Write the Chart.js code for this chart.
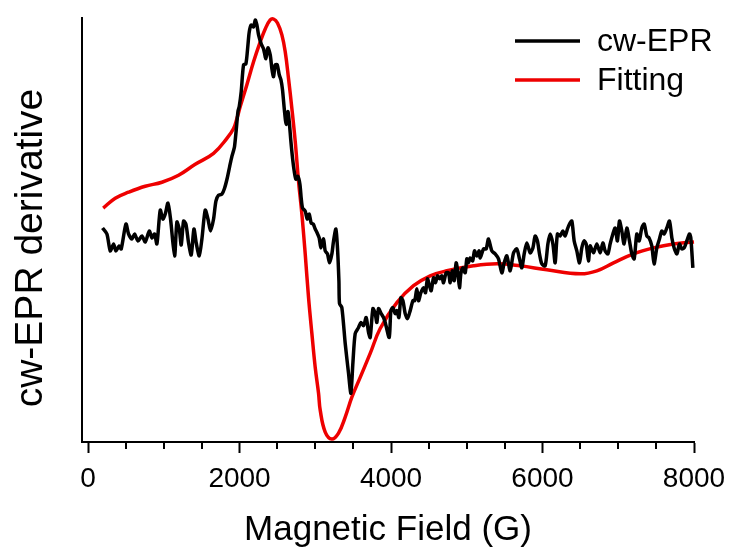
<!DOCTYPE html>
<html>
<head>
<meta charset="utf-8">
<script src="https://cdn.jsdelivr.net/npm/chart.js@4/dist/chart.umd.min.js"></script>
<style>
  html, body { margin: 0; padding: 0; background: #fff; }
  #wrap { width: 729px; height: 556px; }
</style>
</head>
<body>
<div id="wrap"><canvas id="eprChart" width="729" height="556"></canvas></div>
<script>
// measured cw-EPR spectrum (field in G, derivative signal in a.u.)
const fieldEPR = [
    191, 249, 293, 337, 368, 412, 438, 500, 535, 579, 614, 659, 711, 755, 808, 843, 878, 909,
    953, 988, 1019, 1055, 1089, 1142, 1173, 1204, 1230, 1261, 1292, 1327, 1362, 1398, 1428, 1468,
    1503, 1547, 1583, 1617, 1657, 1688, 1723, 1767, 1802, 1837, 1870, 1899, 1934, 1979, 1996, 2022,
    2053, 2084, 2111, 2128, 2154, 2185, 2207, 2229, 2251, 2286, 2317, 2348, 2375, 2405, 2427, 2449,
    2471, 2497, 2524, 2546, 2567, 2594, 2616, 2638, 2656, 2678, 2700, 2722, 2744, 2771, 2797, 2814,
    2832, 2867, 2893, 2920, 2946, 2973, 2999, 3025, 3052, 3074, 3109, 3131, 3161, 3188, 3219, 3241,
    3272, 3293, 3312, 3320, 3351, 3395, 3439, 3470, 3497, 3527, 3571, 3602, 3637, 3672, 3703, 3725,
    3761, 3791, 3813, 3835, 3870, 3901, 3923, 3976, 3998, 4025, 4055, 4077, 4104, 4130, 4157, 4187,
    4217, 4253, 4289, 4313, 4341, 4363, 4394, 4429, 4455, 4481, 4508, 4530, 4561, 4587, 4613, 4643,
    4671, 4693, 4728, 4759, 4781, 4807, 4834, 4860, 4883, 4904, 4922, 4949, 4979, 5001, 5023, 5045,
    5078, 5102, 5133, 5164, 5177, 5221, 5256, 5287, 5331, 5375, 5419, 5463, 5494, 5529, 5573, 5617,
    5661, 5696, 5727, 5758, 5793, 5837, 5873, 5903, 5933, 5960, 5991, 6035, 6071, 6101, 6137, 6167,
    6197, 6233, 6269, 6299, 6329, 6356, 6387, 6418, 6453, 6488, 6519, 6549, 6576, 6607, 6629, 6673,
    6717, 6761, 6797, 6827, 6863, 6893, 6929, 6959, 6989, 7016, 7047, 7077, 7113, 7148, 7179, 7210,
    7245, 7276, 7311, 7342, 7377, 7407, 7443, 7473, 7509, 7544, 7575, 7606, 7641, 7676, 7708, 7738,
    7774, 7808, 7839, 7870, 7905, 7940, 7958, 7985
];
const signalEPR = [
    33, 27, 10, 17, 10, 15, 12, 37, 27, 22, 27, 20, 25, 19, 30, 23, 27, 17,
    51, 42, 47, 58, 42, 5, 39, 32, 16, 40, 37, 18, 6, 32, 18, 5,
    22, 51, 42, 30, 42, 60, 66, 67, 73, 83, 95, 105, 115, 150, 155, 170,
    197, 198, 217, 230, 237, 235, 242, 237, 227, 218, 213, 203, 214, 207, 193, 185,
    197, 197, 187, 182, 172, 150, 137, 150, 140, 120, 103, 90, 82, 85, 77, 63,
    53, 50, 42, 47, 38, 37, 32, 28, 23, 13, 22, 10, 7, -2, 7, 20,
    32, 13, -20, -43, -47, -83, -113, -133, -102, -73, -67, -62, -65, -57, -72, -77,
    -48, -53, -62, -48, -53, -57, -62, -77, -50, -47, -53, -50, -57, -37, -40, -53,
    -58, -50, -40, -40, -28, -40, -32, -27, -32, -18, -25, -30, -17, -22, -15, -18,
    -15, -22, -12, -12, -22, -10, -20, -2, -12, -27, -13, -7, -12, 2, -2, 3,
    0, 10, 5, 10, 3, 12, 12, 22, 10, 7, 2, -12, -2, 5, -10, 8,
    12, 2, -7, 7, 18, 8, 13, 25, 20, 7, -3, -5, 17, 27, 17, -2,
    27, 25, 30, 25, 32, 37, 40, 20, 10, -2, 13, 20, 17, 0, 15, 8,
    17, 8, 18, 10, 7, 17, 27, 33, 20, 40, 30, 17, 33, 20, 7, 2,
    27, 20, 33, 37, 25, 23, 15, -3, 13, 22, 30, 27, 33, 40, 23, 13,
    7, 17, 12, 13, 20, 27, 23, -7
];

// simulated (fitted) spectrum
const fieldFit = [
    200, 359, 535, 755, 975, 1195, 1415, 1657, 1833, 1921, 1965, 2009, 2097, 2185, 2273, 2339,
    2405, 2449, 2501, 2559, 2603, 2647, 2691, 2735, 2779, 2823, 2867, 2911, 2955, 2999, 3043, 3065,
    3131, 3219, 3307, 3395, 3483, 3593, 3725, 3857, 4077, 4297, 4517, 4737, 5089, 5397, 5705, 6058,
    6500, 6717, 6937, 7201, 7465, 7729, 8000
];
const signalFit = [
    53, 63, 69, 75, 79, 86, 97, 108, 123, 133, 143, 155, 177, 200, 220, 233,
    242, 243, 239, 227, 210, 183, 153, 120, 80, 47, 7, -37, -73, -107, -133, -150,
    -172, -179, -173, -157, -137, -117, -93, -68, -42, -25, -15, -10, -5, -3, -5, -9,
    -13, -10, -2, 7, 13, 17, 19
];

const xTicks = [0, 2000, 4000, 6000, 8000];
const seriesNames = ['cw-EPR', 'Fitting'];
const seriesColors = ['#000000', '#ee0000'];
const yTitle = 'cw-EPR derivative';

const FONT = "'Liberation Sans', Arial, sans-serif";

// short ticks every 500 G between the labelled ones
const minorTicks = {
    id: 'minorTicks',
    afterDraw(chart) {
        const ctx = chart.ctx;
        const xs = chart.scales.x;
        const y0 = chart.chartArea.bottom;
        ctx.save();
        ctx.strokeStyle = '#000';
        ctx.lineWidth = 2;
        for (let v = 500; v < 8000; v += 500) {
            if (v % 2000 === 0) continue;
            const px = Math.round(xs.getPixelForValue(v));
            ctx.beginPath();
            ctx.moveTo(px, y0);
            ctx.lineTo(px, y0 + 7);
            ctx.stroke();
        }
        ctx.restore();
    }
};

// rotated y title, sitting a bit below the middle of the axis
const sideTitle = {
    id: 'sideTitle',
    afterDraw(chart) {
        const ctx = chart.ctx;
        ctx.save();
        ctx.translate(31, 248);
        ctx.rotate(-Math.PI / 2);
        ctx.font = '39px ' + FONT;
        ctx.fillStyle = '#000';
        ctx.textAlign = 'center';
        ctx.textBaseline = 'middle';
        ctx.fillText(yTitle, 0, 0);
        ctx.restore();
    }
};

// legend in the upper right corner of the plot
const cornerLegend = {
    id: 'cornerLegend',
    afterDraw(chart) {
        const ctx = chart.ctx;
        ctx.save();
        ctx.font = '32px ' + FONT;
        ctx.textBaseline = 'middle';
        ctx.textAlign = 'left';
        seriesNames.forEach((name, i) => {
            const y = 41 + i * 39;
            ctx.strokeStyle = seriesColors[i];
            ctx.lineWidth = 3.5;
            ctx.beginPath();
            ctx.moveTo(515, y);
            ctx.lineTo(580, y);
            ctx.stroke();
            ctx.fillStyle = '#000';
            ctx.fillText(name, 597, y + 1);
        });
        ctx.restore();
    }
};

const ctx = document.getElementById('eprChart').getContext('2d');
const eprChart = new Chart(ctx, {
    type: 'line',
    data: {
        datasets: [
            {
                label: seriesNames[0],
                data: fieldEPR.map((f, i) => ({ x: f, y: signalEPR[i] })),
                borderColor: seriesColors[0],
                borderWidth: 3.5,
                borderJoinStyle: 'round',
                tension: 0.25,
                pointRadius: 0,
                clip: false
            },
            {
                label: seriesNames[1],
                data: fieldFit.map((f, i) => ({ x: f, y: signalFit[i] })),
                borderColor: seriesColors[1],
                borderWidth: 3.5,
                tension: 0.4,
                pointRadius: 0,
                clip: false
            }
        ]
    },
    options: {
        responsive: false,
        animation: false,
        layout: { padding: { top: 18, right: 35, left: 0, bottom: 0 } },
        plugins: {
            legend: { display: false },
            tooltip: { enabled: false }
        },
        scales: {
            x: {
                type: 'linear',
                min: -80,
                max: 8000,
                afterFit: (scale) => {
                    scale.height = 114;
                    scale.paddingLeft = 0;
                    scale.paddingRight = 0;
                },
                afterBuildTicks: (scale) => { scale.ticks = xTicks.map(v => ({ value: v })); },
                border: { display: true, color: '#000', width: 2 },
                grid: {
                    display: true,
                    drawOnChartArea: false,
                    drawTicks: true,
                    tickLength: 11,
                    tickWidth: 2,
                    tickColor: '#000'
                },
                ticks: {
                    color: '#000',
                    padding: 9,
                    maxRotation: 0,
                    callback: (v) => String(v),
                    font: { family: FONT, size: 28 }
                },
                title: {
                    display: true,
                    text: 'Magnetic Field (G)',
                    color: '#000',
                    padding: { top: 0, bottom: 5 },
                    font: { family: FONT, size: 35 }
                }
            },
            y: {
                type: 'linear',
                min: -182,
                max: 244,
                afterFit: (scale) => { scale.width = 82; },
                border: { display: true, color: '#000', width: 2 },
                grid: { display: false },
                ticks: { display: false }
            }
        }
    },
    plugins: [minorTicks, sideTitle, cornerLegend]
});
</script>
</body>
</html>
